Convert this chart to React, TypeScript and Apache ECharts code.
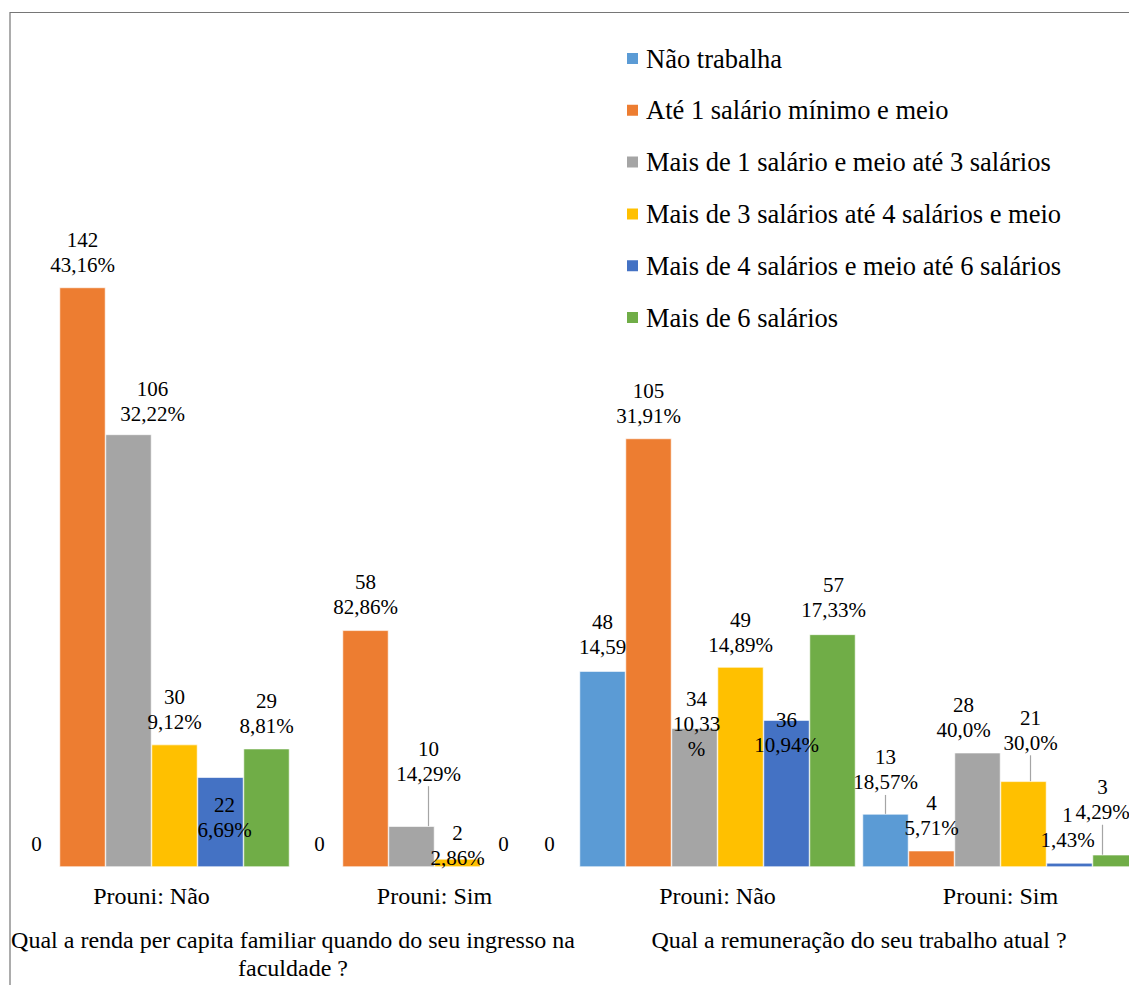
import React, { useEffect, useRef } from "react";
import * as echarts from "echarts";

const categories = ["Prouni: Não", "Prouni: Sim", "Prouni: Não", "Prouni: Sim"];
const questions = [
  "Qual a renda per capita familiar quando do seu ingresso na\nfaculdade ?",
  "Qual a remuneração do seu trabalho atual ?",
];

const seriesNames = [
  "Não trabalha",
  "Até 1 salário mínimo e meio",
  "Mais de 1 salário e meio até 3 salários",
  "Mais de 3 salários até 4 salários e meio",
  "Mais de 4 salários e meio até 6 salários",
  "Mais de 6 salários",
];

const naoTrabalha = [0, 0, 48, 13];
const ate1 = [142, 58, 105, 4];
const de1a3 = [106, 10, 34, 28];
const de3a4 = [30, 2, 49, 21];
const de4a6 = [22, 0, 36, 1];
const mais6 = [29, 0, 57, 3];

const naoTrabalhaPct = ["", "", "14,59", "18,57%"];
const ate1Pct = ["43,16%", "82,86%", "31,91%", "5,71%"];
const de1a3Pct = ["32,22%", "14,29%", "10,33\n%", "40,0%"];
const de3a4Pct = ["9,12%", "2,86%", "14,89%", "30,0%"];
const de4a6Pct = ["6,69%", "", "10,94%", "1,43%"];
const mais6Pct = ["8,81%", "", "17,33%", "4,29%"];

const values = [naoTrabalha, ate1, de1a3, de3a4, de4a6, mais6];
const pcts = [naoTrabalhaPct, ate1Pct, de1a3Pct, de3a4Pct, de4a6Pct, mais6Pct];
const colors = ["#5B9BD5", "#ED7D31", "#A5A5A5", "#FFC000", "#4472C4", "#70AD47"];

// label nudges (style), [dx, dy] per series per category
const labelNudge = [
  [[0, 0], [0, 0], [0, -2], [0, -9]],
  [[0, 0], [0, -1], [0, 0], [0, 0]],
  [[24, 2], [17, -30], [2, 43], [-14, 0]],
  [[0, 0], [0, 22], [0, 0], [7, -16]],
  [[4, 75], [0, 0], [0, 47], [-2, 0]],
  [[0, 0], [0, 0], [1, -2], [-13, -20]],
];
const leader = [
  [false, false, false, true],
  [false, false, false, false],
  [false, true, false, false],
  [false, false, false, true],
  [false, false, false, false],
  [false, false, false, true],
];

const FONT = "Liberation Serif";

export default function App() {
  const ref = useRef<HTMLDivElement>(null);
  useEffect(() => {
    if (!ref.current) return;
    const chart = echarts.init(ref.current, null, { renderer: "svg" });
    const series = seriesNames.map((name, si) => ({
      name,
      type: "bar",
      xAxisIndex: 0,
      yAxisIndex: 0,
      barWidth: 46,
      barGap: "0%",
      itemStyle: { color: colors[si], borderColor: "#ffffff", borderWidth: 0.6 },
      label: {
        show: true,
        position: "top",
        distance: 10,
        fontFamily: FONT,
        fontSize: 21,
        lineHeight: 25,
        color: "#000",
        align: "center",
        formatter: (p: any) =>
          p.value === 0 ? "0" : `${p.value}\n${pcts[si][p.dataIndex]}`,
      },
      labelLayout: (p: any) => {
        const n = labelNudge[p.seriesIndex][p.dataIndex];
        return { dx: n[0], dy: n[1] };
      },
      data: values[si].map((v, ci) => ({
        value: v,
        labelLine: leader[si][ci]
          ? { show: true, lineStyle: { color: "#A5A5A5", width: 1.2 } }
          : { show: false },
      })),
    }));

    chart.setOption({
      animation: false,
      backgroundColor: "#ffffff",
      textStyle: { fontFamily: FONT },
      grid: {
        left: 10,
        top: 214,
        right: -13,
        height: 653,
        containLabel: false,
        outerBoundsMode: "none",
      },
      legend: {
        orient: "vertical",
        left: 620,
        top: 40,
        itemWidth: 13,
        itemHeight: 13,
        itemGap: 24.8,
        icon: "rect",
        data: seriesNames,
        textStyle: {
          fontFamily: FONT,
          fontSize: 26.5,
          lineHeight: 26,
          color: "#000",
          padding: [0, 0, 0, 2],
        },
      },
      xAxis: [
        {
          type: "category",
          data: categories,
          axisLine: { show: false },
          axisTick: { show: false },
          axisLabel: {
            margin: 17,
            fontFamily: FONT,
            fontSize: 24,
            color: "#000",
          },
        },
        {
          type: "category",
          data: questions,
          position: "bottom",
          offset: 46,
          axisLine: { show: false },
          axisTick: { show: false },
          axisLabel: {
            margin: 13,
            fontFamily: FONT,
            fontSize: 24,
            lineHeight: 28,
            color: "#000",
            interval: 0,
          },
        },
      ],
      yAxis: { type: "value", min: 0, max: 160, show: false },
      graphic: [
        {
          type: "rect",
          shape: { x: 10, y: 12.5, width: 1300, height: 1200 },
          style: { fill: "none", stroke: "#767676", lineWidth: 1.2 },
          silent: true,
        },
      ],
      series,
    });
    return () => chart.dispose();
  }, []);
  return (
    <div
      ref={ref}
      style={{ position: "fixed", left: 0, top: 0, width: 1129, height: 985 }}
    />
  );
}
